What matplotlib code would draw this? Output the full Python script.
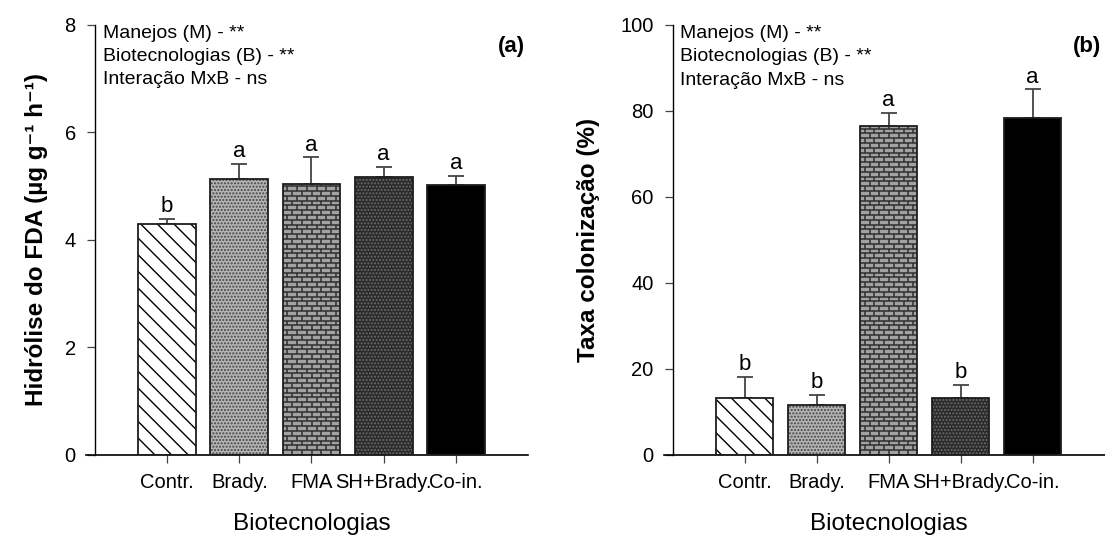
import numpy as np
import matplotlib.pyplot as plt

plt.rcParams['font.family'] = ['Liberation Sans', 'DejaVu Sans']
plt.rcParams['hatch.linewidth'] = 1.0

# dados (media e erro padrao) por biotecnologia
categorias = ['Contr.', 'Brady.', 'FMA', 'SH+Brady.', 'Co-in.']

fda = [4.29, 5.13, 5.04, 5.16, 5.02]
fda_erro = [0.09, 0.28, 0.49, 0.20, 0.16]
fda_letras = ['b', 'a', 'a', 'a', 'a']

colonizacao = [13.3, 11.7, 76.6, 13.3, 78.4]
colonizacao_erro = [4.8, 2.3, 3.0, 3.0, 6.6]
col_letras = ['b', 'b', 'a', 'b', 'a']

anova = ['Manejos (M) - **', 'Biotecnologias (B) - **', 'Interação MxB - ns']

# estilo de preenchimento de cada barra: (cor de fundo, cor da textura, hatch)
estilos = [('white', 'black', '\\\\'),
           ('#b4b4b4', '#454545', '.....'),
           ('#a2a2a2', None, None),        # tijolos, desenhados a parte
           ('#2a2a2a', '#6a6a6a', '.....'),
           ('black', None, None)]

x = np.arange(1, len(categorias) + 1)
largura = 0.8


def tijolos(ax, xc, altura):
    # textura de tijolos dentro da barra (em pixels -> dados)
    p0 = ax.transData.transform((0, 0))
    p1 = ax.transData.transform((1, 1))
    px_x = p1[0] - p0[0]
    px_y = p1[1] - p0[1]
    passo = 4.8 / px_y
    comp = 9.7 / px_x
    x0 = xc - largura / 2
    x1 = xc + largura / 2
    rect = plt.Rectangle((x0, 0), largura, altura, transform=ax.transData)
    linhas = np.arange(0, altura, passo)
    for i, y in enumerate(linhas):
        ax.hlines(y, x0, x1, color='#2e2e2e', lw=1.1, zorder=2.5, clip_path=rect)
        desloc = 0 if i % 2 == 0 else comp / 2
        for xv in np.arange(x0 + desloc, x1, comp):
            ax.vlines(xv, y, y + passo, color='#2e2e2e', lw=1.1, zorder=2.5, clip_path=rect)


def painel(ax, valores, erros, letras, ylim, yticks, ylabel, tag, ylabel_x):
    ax.set_xlim(-0.125, 6)
    ax.set_ylim(ylim)
    for i in range(len(x)):
        cor, cor_h, hatch = estilos[i]
        ax.bar(x[i], valores[i], largura, color=cor, edgecolor=cor_h if cor_h else cor,
               hatch=hatch, linewidth=0, zorder=2)
        if i == 2:
            tijolos(ax, x[i], valores[i])
    ax.bar(x, valores, largura, fill=False, edgecolor='#1e1e1e', linewidth=1.3, zorder=3)
    ax.errorbar(x, valores, yerr=[np.zeros(len(erros)), erros], fmt='none',
                ecolor='#444444', elinewidth=1.3, capsize=5.5, capthick=1.3, zorder=1)
    for xi, v, e, l in zip(x, valores, erros, letras):
        ax.annotate(l, (xi, v + e), xytext=(0, 5), textcoords='offset points',
                    ha='center', va='baseline', fontsize=16)

    ax.spines['top'].set_visible(False)
    ax.spines['right'].set_visible(False)
    ax.spines['left'].set_position(('data', 0))
    ax.spines['left'].set_linewidth(1.0)
    ax.spines['bottom'].set_linewidth(1.2)
    ax.set_xticks(x)
    ax.set_xticklabels(categorias)
    ax.set_yticks(yticks)
    ax.tick_params(axis='both', direction='out', length=5.8, width=0.9,
                   color='#444444', labelsize=14.5)
    ax.tick_params(axis='y', pad=8)
    ax.tick_params(axis='x', pad=7)

    ax.set_xlabel('Biotecnologias', fontsize=17.5)
    ax.xaxis.set_label_coords(0.51, -0.135)
    ax.set_ylabel(ylabel, fontsize=17.5, fontweight='bold')
    ax.yaxis.set_label_coords(ylabel_x, 0.5)

    for k, linha in enumerate(anova):
        ax.text(0.038, 0.97 - 0.0545 * k, linha, transform=ax.transAxes,
                fontsize=14, ha='left', va='baseline')
    ax.text(0.993, 0.95, tag, transform=ax.transAxes, fontsize=16,
            fontweight='bold', ha='right', va='center')


fig = plt.figure(figsize=(11.05, 5.41), dpi=100)
ax1 = fig.add_axes([0.0778, 0.159, 0.4, 0.7955])
ax2 = fig.add_axes([0.6006, 0.159, 0.3991, 0.7948])

painel(ax1, fda, fda_erro, fda_letras, (0, 8), [0, 2, 4, 6, 8],
       'Hidrólise do FDA (µg g⁻¹ h⁻¹)', '(a)', -0.085)
painel(ax2, colonizacao, colonizacao_erro, col_letras, (0, 100), [0, 20, 40, 60, 80, 100],
       'Taxa colonização (%)', '(b)', -0.145)

fig.savefig('out.png', dpi=100)
